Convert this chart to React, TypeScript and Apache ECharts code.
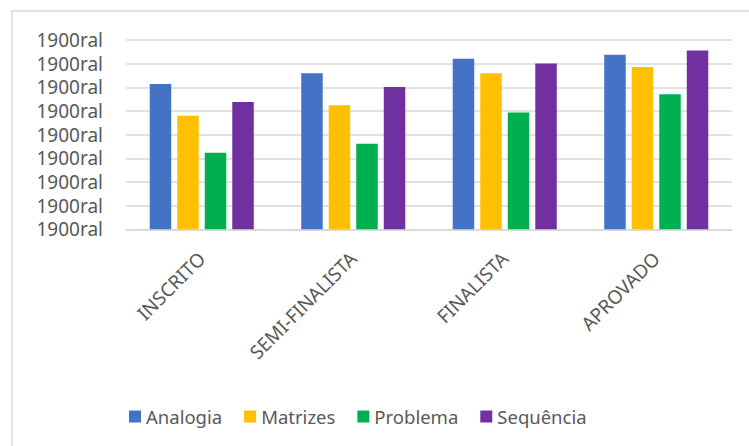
import React, { useEffect, useRef } from "react";
import * as echarts from "echarts";

const categories = ["INSCRITO", "SEMI-FINALISTA", "FINALISTA", "APROVADO"];
const analogia = [6.14, 6.59, 7.21, 7.38];
const matrizes = [4.8, 5.24, 6.59, 6.86];
const problema = [3.24, 3.62, 4.94, 5.71];
const sequencia = [5.38, 6.01, 7.01, 7.56];
const seriesNames = ["Analogia", "Matrizes", "Problema", "Sequência"];
const seriesColors = ["#4472C4", "#FFC000", "#00B050", "#7030A0"];
const yTickLabel = "1900ral";

export default function App() {
  const ref = useRef<HTMLDivElement>(null);
  useEffect(() => {
    if (!ref.current) return;
    const chart = echarts.init(ref.current, null, { renderer: "svg" });
    const font = "'Noto Sans', 'Open Sans', sans-serif";
    const dataSets = [analogia, matrizes, problema, sequencia];
    chart.setOption({
      animation: false,
      backgroundColor: "#ffffff",
      textStyle: { fontFamily: font },
      graphic: [
        {
          type: "rect",
          shape: { x: 12, y: 11, width: 780, height: 480 },
          style: { fill: "none", stroke: "#d9d9d9", lineWidth: 1.5 },
          silent: true,
          z: -10,
        },
      ],
      grid: { left: 126, right: 17, top: 40, bottom: 216.7, containLabel: false },
      legend: {
        left: 124,
        top: 402,
        itemWidth: 12,
        itemHeight: 12,
        itemGap: 22,
        icon: "rect",
        textStyle: { fontSize: 18.5, color: "#595959", fontFamily: font },
        data: seriesNames,
      },
      xAxis: {
        type: "category",
        data: categories,
        axisLine: { show: true, lineStyle: { color: "#d9d9d9", width: 1.5 } },
        axisTick: { show: false },
        axisLabel: {
          rotate: 45,
          fontSize: 19,
          color: "#595959",
          margin: 26,
          fontFamily: font,
          interval: 0,
        },
      },
      yAxis: {
        type: "value",
        min: 0,
        max: 8,
        interval: 1,
        axisLine: { show: false },
        axisTick: { show: false },
        splitLine: { lineStyle: { color: "#d9d9d9", width: 1.5 } },
        axisLabel: {
          formatter: () => yTickLabel,
          fontSize: 19,
          lineHeight: 19,
          color: "#595959",
          margin: 23,
          fontFamily: font,
        },
      },
      series: seriesNames.map((name, i) => ({
        name,
        type: "bar",
        data: dataSets[i],
        barWidth: 21.5,
        barGap: "28%",
        itemStyle: { color: seriesColors[i] },
      })),
    });
    return () => chart.dispose();
  }, []);
  return (
    <div
      ref={ref}
      style={{ position: "fixed", left: 0, top: 0, width: 749, height: 446 }}
    />
  );
}
